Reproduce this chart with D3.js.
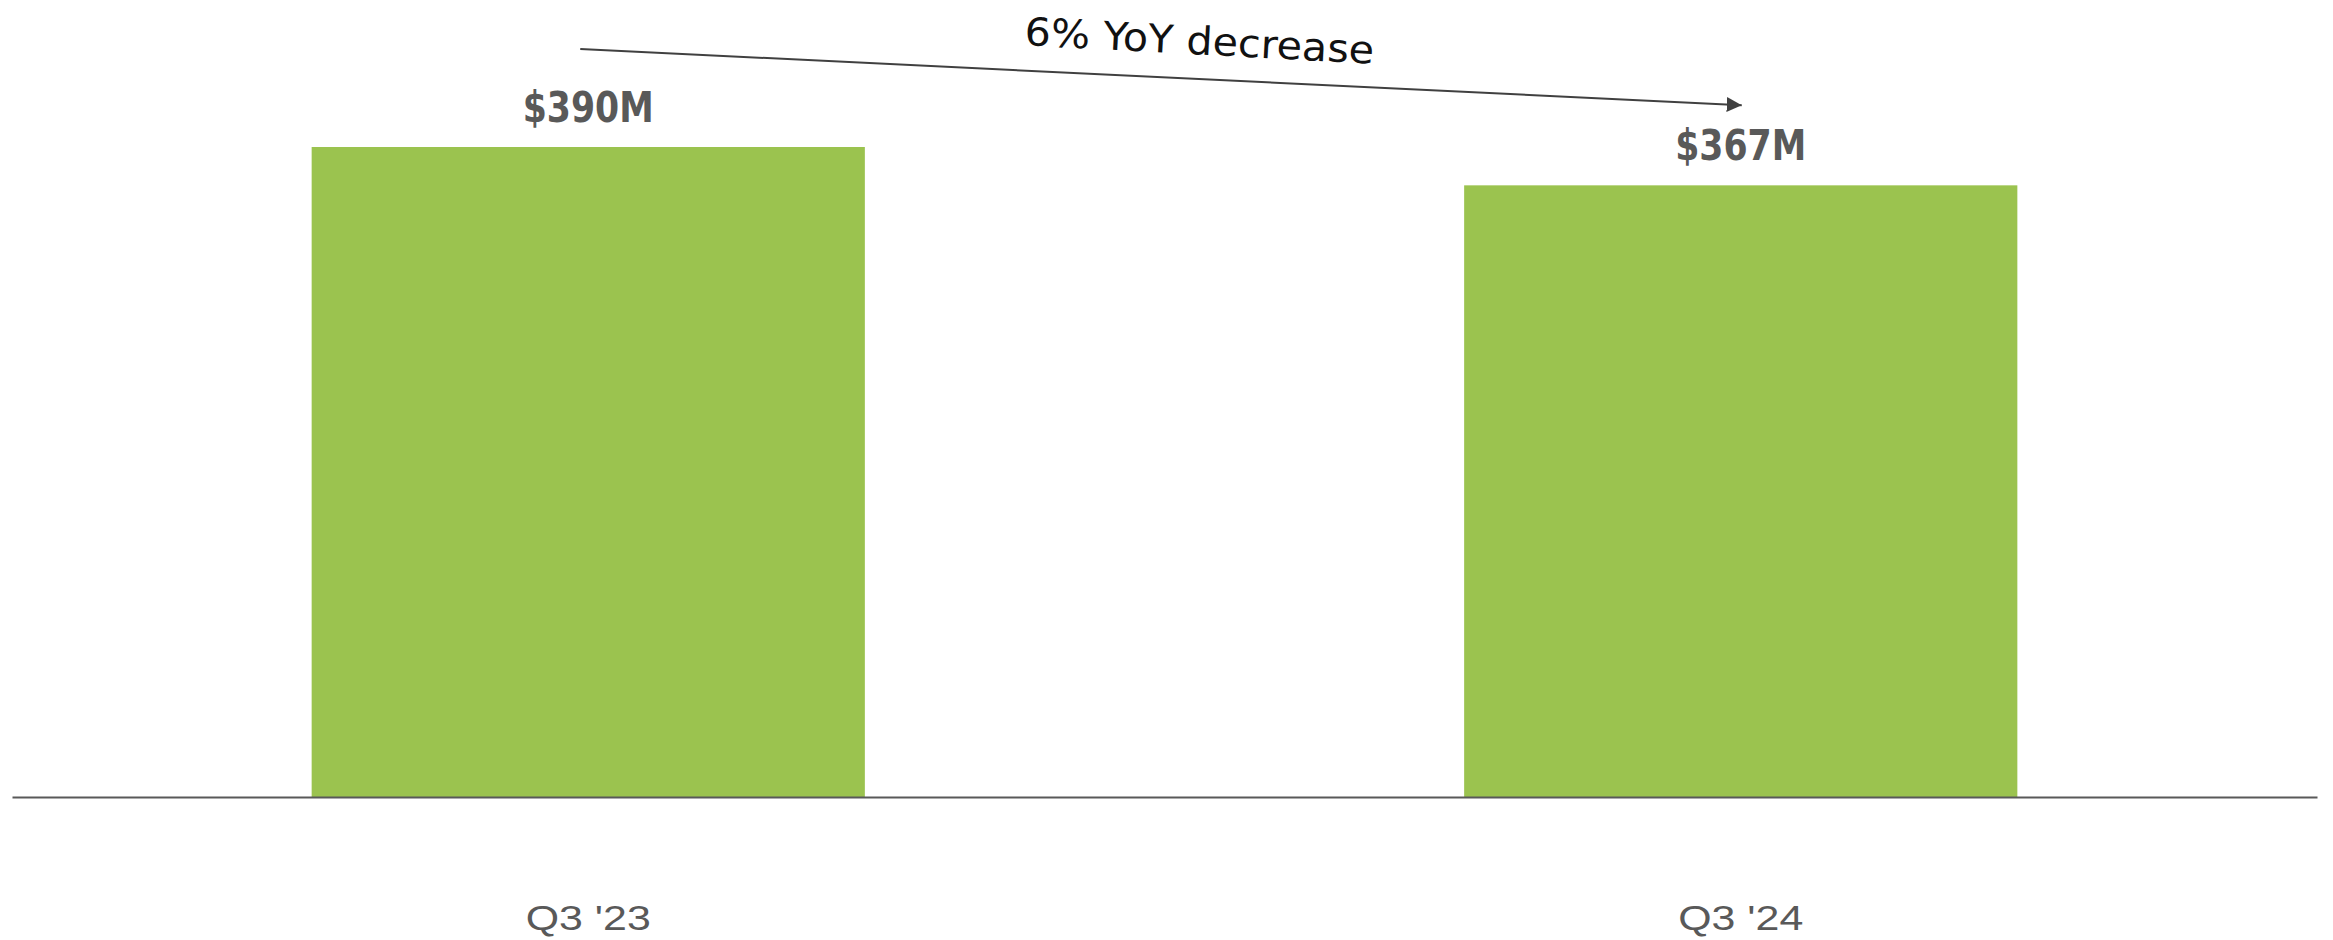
<!DOCTYPE html>
<html>
<head>
<meta charset="utf-8">
<script src="https://cdn.jsdelivr.net/npm/d3@7"></script>
<style>
  html, body { margin: 0; padding: 0; background: #ffffff; }
  svg { display: block; }
</style>
</head>
<body>
<svg id="chart" width="2333" height="940"></svg>
<script>
const categories = ["Q3 '23", "Q3 '24"];
const values = [390, 367];
const valueLabels = ["$390M", "$367M"];
const annotationText = "6% YoY decrease";

const W = 2333, H = 940;
const svg = d3.select("#chart");

const x = d3.scaleBand()
  .domain(categories)
  .range([12, 2317])
  .paddingInner(0.52)
  .paddingOuter(0.26);

const baseY = 797;
const y = d3.scaleLinear()
  .domain([0, 390])
  .range([baseY, 147]);

// bars
svg.append("g").selectAll("rect")
  .data(categories)
  .join("rect")
  .attr("x", d => x(d))
  .attr("width", x.bandwidth())
  .attr("y", (d, i) => y(values[i]))
  .attr("height", (d, i) => y(0) - y(values[i]))
  .attr("fill", "#9BC34F");

// baseline axis
const axis = d3.axisBottom(x).tickSize(0).tickPadding(0);
const gAxis = svg.append("g").attr("transform", `translate(0,${baseY})`).call(axis);
gAxis.select(".domain").attr("stroke", "#595959").attr("stroke-width", 2);
gAxis.selectAll(".tick text")
  .attr("y", 133)
  .attr("dy", 0)
  .attr("font-family", "'Liberation Sans', Arial, sans-serif")
  .attr("font-size", 35)
  .attr("fill", "#595959")
  .attr("textLength", 125)
  .attr("lengthAdjust", "spacingAndGlyphs");

// value labels
svg.append("g").selectAll("text")
  .data(categories)
  .join("text")
  .attr("x", d => x(d) + x.bandwidth() / 2)
  .attr("y", (d, i) => y(values[i]) - 25)
  .attr("text-anchor", "middle")
  .attr("font-family", "'DejaVu Sans Condensed', 'DejaVu Sans', sans-serif")
  .attr("font-weight", "bold")
  .attr("font-size", 43)
  .attr("fill", "#595959")
  .attr("textLength", 131)
  .attr("lengthAdjust", "spacingAndGlyphs")
  .text((d, i) => valueLabels[i]);

// arrow
const defs = svg.append("defs");
defs.append("marker")
  .attr("id", "arrowhead")
  .attr("viewBox", "0 0 10 10")
  .attr("refX", 10).attr("refY", 5)
  .attr("markerWidth", 15).attr("markerHeight", 15)
  .attr("markerUnits", "userSpaceOnUse")
  .attr("orient", "auto")
  .append("path")
  .attr("d", "M0,0 L10,5 L0,10 Z")
  .attr("fill", "#404040");

const x0 = x(categories[0]) + x.bandwidth() / 2 - 8;
const y0 = y(values[0]) - 98;
const x1 = x(categories[1]) + x.bandwidth() / 2 + 1;
const y1 = y(values[1]) - 80;
svg.append("line")
  .attr("x1", x0).attr("y1", y0)
  .attr("x2", x1).attr("y2", y1)
  .attr("stroke", "#404040")
  .attr("stroke-width", 2)
  .attr("marker-end", "url(#arrowhead)");

// annotation text
const angle = Math.atan2(y1 - y0, x1 - x0) * 180 / Math.PI + 0.3;
svg.append("text")
  .attr("transform", `translate(1024,45) rotate(${angle})`)
  .attr("font-family", "'DejaVu Sans', sans-serif")
  .attr("font-size", 39)
  .attr("fill", "#111111")
  .attr("textLength", 350)
  .attr("lengthAdjust", "spacingAndGlyphs")
  .text(annotationText);
</script>
</body>
</html>
